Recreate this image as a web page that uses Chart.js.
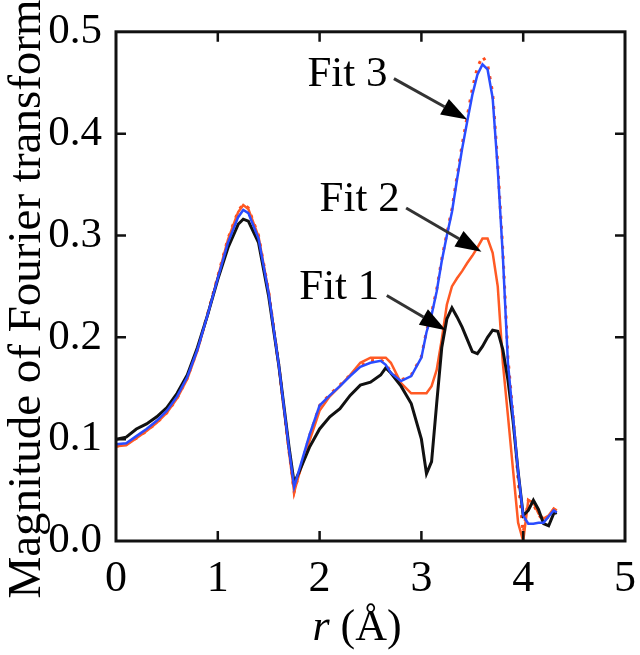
<!DOCTYPE html>
<html>
<head>
<meta charset="utf-8">
<script src="https://cdn.jsdelivr.net/npm/chart.js@4/dist/chart.umd.min.js"></script>
<style>
  html, body { margin: 0; padding: 0; background: #fff; }
  canvas { display: block; }
</style>
</head>
<body>
<canvas id="js-ft-chart" width="640" height="655"></canvas>
<script>
// r (Å) grid shared by all curves
const rValues = [0, 0.1, 0.2, 0.3, 0.4, 0.5, 0.6, 0.7, 0.8, 0.9, 1.0, 1.1, 1.2, 1.25, 1.3, 1.4, 1.5, 1.6, 1.7, 1.75,
  1.8, 1.9, 2.0, 2.1, 2.2, 2.3, 2.4, 2.5, 2.6, 2.65, 2.7, 2.8, 2.9, 3.0, 3.05, 3.1, 3.15, 3.2, 3.25, 3.3,
  3.35, 3.4, 3.45, 3.5, 3.55, 3.6, 3.65, 3.7, 3.75, 3.8, 3.85, 3.9, 3.95, 4.0, 4.05, 4.1, 4.15, 4.2, 4.25, 4.3, 4.33];

const fit1 = [0.100, 0.102, 0.110, 0.115, 0.122, 0.131, 0.145, 0.163, 0.190, 0.222, 0.257, 0.288, 0.311, 0.316, 0.314, 0.293, 0.240, 0.172, 0.092, 0.057,
  0.068, 0.092, 0.110, 0.122, 0.130, 0.143, 0.153, 0.156, 0.163, 0.170, 0.165, 0.152, 0.135, 0.100, 0.066, 0.078, 0.135, 0.190, 0.218, 0.229,
  0.220, 0.210, 0.198, 0.186, 0.184, 0.191, 0.200, 0.207, 0.206, 0.188, 0.158, 0.118, 0.068, 0.025, 0.030, 0.040, 0.031, 0.017, 0.015, 0.027, 0.028];

const fit2 = [0.093, 0.094, 0.101, 0.108, 0.116, 0.126, 0.140, 0.159, 0.187, 0.222, 0.259, 0.296, 0.323, 0.330, 0.326, 0.299, 0.244, 0.171, 0.087, 0.048,
  0.066, 0.098, 0.128, 0.142, 0.152, 0.163, 0.175, 0.180, 0.180, 0.180, 0.175, 0.155, 0.145, 0.145, 0.145, 0.152, 0.168, 0.198, 0.232, 0.250,
  0.258, 0.265, 0.273, 0.280, 0.288, 0.297, 0.297, 0.283, 0.250, 0.175, 0.123, 0.070, 0.018, 0.000, 0.040, 0.038, 0.027, 0.022, 0.025, 0.032, 0.030];

const fit3 = [0.095, 0.096, 0.103, 0.110, 0.118, 0.128, 0.142, 0.161, 0.188, 0.222, 0.258, 0.293, 0.318, 0.325, 0.322, 0.297, 0.243, 0.172, 0.090, 0.053,
  0.070, 0.104, 0.133, 0.143, 0.152, 0.162, 0.171, 0.175, 0.177, 0.173, 0.165, 0.157, 0.162, 0.180, 0.205, 0.222, 0.245, 0.275, 0.300, 0.323,
  0.355, 0.385, 0.412, 0.438, 0.458, 0.468, 0.463, 0.435, 0.365, 0.280, 0.175, 0.122, 0.068, 0.025, 0.017, 0.017, 0.018, 0.018, 0.024, 0.030, 0.028];

// measured curve, dashed, mostly hidden under Fit 3
const measured = [0.093, 0.095, 0.101, 0.108, 0.116, 0.126, 0.140, 0.160, 0.188, 0.223, 0.260, 0.297, 0.324, 0.331, 0.327, 0.300, 0.245, 0.172, 0.088, 0.048,
  0.067, 0.103, 0.133, 0.144, 0.153, 0.163, 0.172, 0.177, 0.178, 0.174, 0.166, 0.158, 0.163, 0.181, 0.206, 0.224, 0.247, 0.277, 0.302, 0.326,
  0.358, 0.389, 0.417, 0.444, 0.465, 0.476, 0.468, 0.440, 0.370, 0.285, 0.180, 0.124, 0.060, 0.008, 0.040, 0.036, 0.026, 0.020, 0.024, 0.031, 0.029];

const xTicks = [0, 1, 2, 3, 4, 5];
const yTicks = [0.0, 0.1, 0.2, 0.3, 0.4, 0.5];

// annotation labels with arrows, in data coordinates
const fitLabels = ["Fit 3", "Fit 2", "Fit 1"];
const labelAt = [[1.88, 0.447], [2.0, 0.324], [1.80, 0.238]];
const arrowFrom = [[2.73, 0.454], [2.85, 0.327], [2.66, 0.241]];
const arrowTo = [[3.45, 0.414], [3.59, 0.284], [3.24, 0.207]];

// a single family only: lists fall back to sans here
const serif = "Liberation Serif";

const toPoints = (ys) => rValues.map((r, i) => ({ x: r, y: ys[i] }));

const framePlugin = {
    id: "frame",
    afterDatasetsDraw(chart) {
        const ctx = chart.ctx;
        const a = chart.chartArea;
        const xs = chart.scales.x;
        const ys = chart.scales.y;
        const tick = 10;
        ctx.save();
        ctx.strokeStyle = "#111";
        ctx.lineWidth = 3;
        ctx.strokeRect(a.left, a.top, a.right - a.left, a.bottom - a.top);
        ctx.lineWidth = 2.5;
        ctx.beginPath();
        xTicks.slice(1, -1).forEach((v) => {
            const px = xs.getPixelForValue(v);
            ctx.moveTo(px, a.bottom); ctx.lineTo(px, a.bottom - tick);
            ctx.moveTo(px, a.top); ctx.lineTo(px, a.top + tick);
        });
        yTicks.slice(1, -1).forEach((v) => {
            const py = ys.getPixelForValue(v);
            ctx.moveTo(a.left, py); ctx.lineTo(a.left + tick, py);
            ctx.moveTo(a.right, py); ctx.lineTo(a.right - tick, py);
        });
        ctx.stroke();

        // Fit labels and arrows
        ctx.font = "43px " + serif;
        ctx.textBaseline = "alphabetic";
        ctx.textAlign = "left";
        fitLabels.forEach((txt, i) => {
            ctx.fillStyle = "#000";
            ctx.fillText(txt, xs.getPixelForValue(labelAt[i][0]), ys.getPixelForValue(labelAt[i][1]));
            const x1 = xs.getPixelForValue(arrowFrom[i][0]), y1 = ys.getPixelForValue(arrowFrom[i][1]);
            const x2 = xs.getPixelForValue(arrowTo[i][0]), y2 = ys.getPixelForValue(arrowTo[i][1]);
            const ang = Math.atan2(y2 - y1, x2 - x1);
            const head = 26, half = 9;
            const bx = x2 - head * Math.cos(ang), by = y2 - head * Math.sin(ang);
            ctx.strokeStyle = "#333";
            ctx.lineWidth = 3;
            ctx.beginPath();
            ctx.moveTo(x1, y1);
            ctx.lineTo(bx, by);
            ctx.stroke();
            ctx.beginPath();
            ctx.moveTo(x2, y2);
            ctx.lineTo(bx + half * Math.sin(ang), by - half * Math.cos(ang));
            ctx.lineTo(bx - half * Math.sin(ang), by + half * Math.cos(ang));
            ctx.closePath();
            ctx.fill();
        });

        // axis titles
        ctx.fillStyle = "#000";
        ctx.save();
        ctx.translate(40, 299);
        ctx.rotate(-Math.PI / 2);
        ctx.font = "47px " + serif;
        ctx.textAlign = "center";
        ctx.fillText("Magnitude of Fourier transform", 0, 0);
        ctx.restore();

        ctx.textAlign = "left";
        ctx.font = "italic 44px " + serif;
        const rw = ctx.measureText("r").width;
        ctx.font = "44px " + serif;
        const restW = ctx.measureText(" (Å)").width;
        const startX = 357 - (rw + restW) / 2;
        ctx.font = "italic 44px " + serif;
        ctx.fillText("r", startX, 640);
        ctx.font = "44px " + serif;
        ctx.fillText(" (Å)", startX + rw, 640);
        ctx.restore();
    },
};

const init = () => {
    const el = document.getElementById("js-ft-chart").getContext("2d");
    new Chart(el, {
        type: "line",
        data: {
            datasets: [
                { label: "Data", data: toPoints(measured), borderColor: "#ff4a1a", borderWidth: 3, borderDash: [3, 7], order: 4 },
                { label: "Fit 2", data: toPoints(fit2), borderColor: "#ff5a24", borderWidth: 2.5, order: 3 },
                { label: "Fit 1", data: toPoints(fit1), borderColor: "#111111", borderWidth: 3, order: 2 },
                { label: "Fit 3", data: toPoints(fit3), borderColor: "#2a4cff", borderWidth: 2.5, order: 1 },
            ],
        },
        options: {
            responsive: false,
            animation: false,
            elements: { point: { radius: 0 }, line: { tension: 0 } },
            layout: { padding: { top: 20, right: 8, left: 0, bottom: 0 } },
            plugins: { legend: { display: false }, tooltip: { enabled: false } },
            scales: {
                x: {
                    type: "linear",
                    min: 0,
                    max: 5,
                    grid: { display: false },
                    border: { display: false },
                    afterFit: (s) => { s.height = 114; },
                    afterBuildTicks: (s) => { s.ticks = xTicks.map((v) => ({ value: v })); },
                    ticks: { color: "#000", padding: 4, maxRotation: 0, font: { family: serif, size: 44 }, callback: (v) => String(v) },
                },
                y: {
                    min: 0,
                    max: 0.5,
                    grid: { display: false },
                    border: { display: false },
                    afterFit: (s) => { s.width = 116; },
                    afterBuildTicks: (s) => { s.ticks = yTicks.map((v) => ({ value: v })); },
                    ticks: { color: "#000", padding: 6, font: { family: serif, size: 43 }, callback: (v) => v.toFixed(1) },
                },
            },
        },
        plugins: [framePlugin],
    });
};

init();
</script>
</body>
</html>
